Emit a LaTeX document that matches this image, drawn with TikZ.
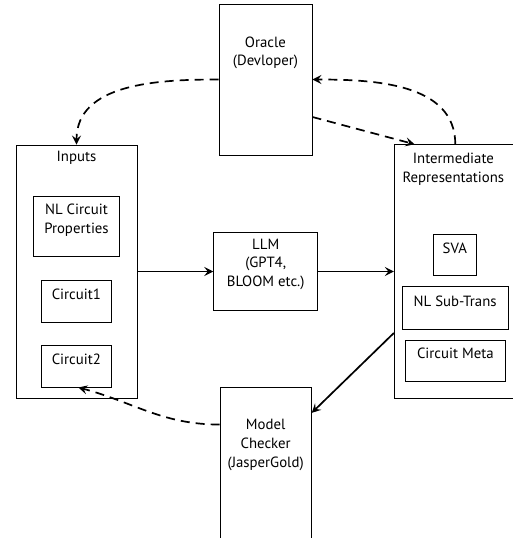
\documentclass[tikz,border=0pt]{standalone}
\usepackage{fontspec}
\setmainfont{PT Sans}
\usetikzlibrary{arrows.meta}
\begin{document}
\begin{tikzpicture}[x=1pt,y=1pt,
  box/.style={draw, line width=0.9pt, inner sep=0pt},
  lbl/.style={align=center, font=\fontsize{14.8}{18.6}\selectfont, inner sep=0pt},
  flow/.style={line width=1.7pt, -{Stealth[length=9pt,width=9pt,inset=3.5pt]}},
  dflow/.style={flow, dash pattern=on 9pt off 6pt}]
\useasboundingbox (0,0) rectangle (513,-538);
% boxes
\node[box, minimum width=93pt, minimum height=151pt] (oracle) at (265.5,-79.5) {};
\node[box, minimum width=121pt, minimum height=253pt] (inputs) at (76.5,-271.5) {};
\node[box, minimum width=85.6pt, minimum height=60pt] (nlcp) at (76.5,-226.7) {};
\node[box, minimum width=69.3pt, minimum height=41.7pt] (c1) at (76.35,-301.2) {};
\node[box, minimum width=69.3pt, minimum height=41.3pt] (c2) at (76.35,-366.35) {};
\node[box, minimum width=104pt, minimum height=78.4pt] (llm) at (265.7,-271.5) {};
\node[box, minimum width=130pt, minimum height=253.6pt] (ir) at (459.3,-271.5) {};
\node[box, minimum width=43pt, minimum height=41.4pt] (sva) at (454.8,-255) {};
\node[box, minimum width=105.7pt, minimum height=42.3pt] (nlst) at (455.15,-307.85) {};
\node[box, minimum width=100.7pt, minimum height=41.3pt] (cm) at (455.35,-360.65) {};
\node[box, minimum width=91.3pt, minimum height=156pt] (mc) at (265.65,-465.3) {};
% texts
\node[lbl] (oracletxt) at (265.5,-53) {Oracle\\(Devloper)};
\node[lbl] (inputstxt) at (76.5,-158) {Inputs};
\node[lbl] (nlcptxt) at (76.5,-220) {NL Circuit\\Properties};
\node[lbl] (c1txt) at (76.35,-294.3) {Circuit1};
\node[lbl] (c2txt) at (76.35,-359.3) {Circuit2};
\node[lbl] (llmtxt) at (265.7,-264.3) {LLM\\(GPT4,\\BLOOM etc.)};
\node[lbl] (irtxt) at (453.4,-169) {Intermediate\\Representations};
\node[lbl] (svatxt) at (454.8,-248) {SVA};
\node[lbl] (nlsttxt) at (455.15,-301.7) {NL Sub-Trans};
\node[lbl] (cmtxt) at (455.35,-353.3) {Circuit Meta};
\node[lbl] (mctxt) at (265.65,-445) {Model\\Checker\\(JasperGold)};
% connectors
\draw[flow] (inputs.east) -- (llm.west);
\draw[flow] (llm.east) -- (ir.west);
\draw[flow] ([yshift=-61.5pt]ir.west) -- ([yshift=-26pt]mc.north east);
\draw[dflow] (oracle.west) to[out=180,in=90] (inputs.north);
\draw[dflow] ([yshift=-37.5pt]oracle.east) -- ([xshift=20.7pt]ir.north west);
\draw[dflow] ([xshift=-4pt]ir.north) to[out=90,in=0] (oracle.east);
\draw[dflow] ([yshift=-37.7pt]mc.north west) to[out=180,in=-15] ([xshift=2pt]c2.south);
\end{tikzpicture}
\end{document}
